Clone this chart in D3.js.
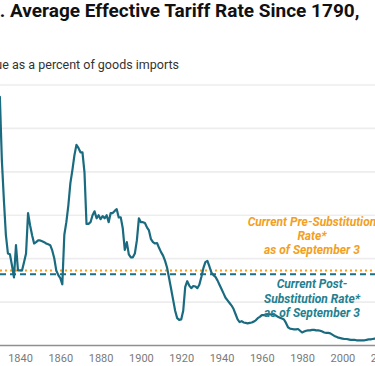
<!DOCTYPE html>
<html><head><meta charset="utf-8">
<script src="https://cdn.jsdelivr.net/npm/d3@7"></script>
<style>
body{margin:0;background:#fff;overflow:hidden;}
svg{display:block;font-family:Roboto,"Noto Sans",sans-serif;}
</style>
</head><body>
<svg id="c" width="375" height="366"></svg>
<script>
// ---- data ----
const firstYear = 1828;
const rates = [
 46.0,50.8,57.3,42.7,33.5,25.4,21.2,21.0,18.5,15.7,23.1,17.3,           // 1828-1839
 17.3,17.3,19.2,21.2,30.5,27.7,25.4,23.5,23.8,24.2,                     // 1840-1849
 24.2,24.0,23.8,23.5,23.3,23.1,21.9,20.1,17.3,16.2,                     // 1850-1859
 15.5,14.1,25.5,28.4,32.3,37.4,40.4,43.8,46.2,45.5,                     // 1860-1869
 44.5,44.5,39.9,28.0,28.0,28.4,30.0,30.9,29.3,30.0,                     // 1870-1879
 29.1,29.8,29.3,30.0,28.4,30.5,30.5,31.0,31.4,29.5,                     // 1880-1889
 29.5,27.0,22.0,23.8,21.0,20.3,20.3,21.2,24.2,29.3,                     // 1890-1899
 28.4,28.4,28.2,27.2,26.5,24.5,23.8,23.5,23.6,22.5,                     // 1900-1909
 21.5,20.7,19.5,17.9,15.5,13.0,10.5,8.0,6.3,5.9,                        // 1910-1919
 6.0,8.0,13.5,14.8,13.8,13.2,13.7,13.6,13.2,14.0,                       // 1920-1929
 15.8,17.8,19.2,19.5,18.2,16.8,16.2,15.8,15.0,14.0,                     // 1930-1939
 13.0,12.0,11.0,10.4,9.8,9.2,8.4,7.2,6.0,5.4,                           // 1940-1949
 5.6,5.3,5.2,5.1,5.2,5.3,5.5,5.8,6.3,6.6,                               // 1950-1959
 7.0,7.0,7.1,7.1,7.2,7.2,7.1,6.9,6.6,6.4,                               // 1960-1969
 6.2,6.0,5.2,4.2,3.9,3.8,3.7,3.7,3.8,3.4,                               // 1970-1979
 3.0,3.2,3.4,3.5,3.5,3.6,3.6,3.5,3.5,3.4,                               // 1980-1989
 3.2,3.0,2.9,2.9,2.8,2.5,2.2,2.0,1.8,1.7,                               // 1990-1999
 1.6,1.5,1.5,1.4,1.3,1.3,1.3,1.2,1.2,1.2,                               // 2000-2009
 1.2,1.2,1.3,1.4,1.4,1.5,1.6,1.6,2.0,2.6,                               // 2010-2019
 2.6,2.4,2.4,2.3,2.5                                                    // 2020-2024
];
const years = rates.map((_, i) => firstYear + i);
const xTicks = [1800,1820,1840,1860,1880,1900,1920,1940,1960,1980,2000,2020];
const yGrid = [10,20,30,40,50,60];
const preRate = 17.3;
const postRate = 16.4;
const titleText = "U.S. Average Effective Tariff Rate Since 1790,";
const titleVisible = "Average Effective Tariff Rate Since 1790,";
const subtitleText = "Customs duties revenue as a percent of goods imports";
const subtitleVisible = "as a percent of goods imports";
const preLabel = ["Current Pre-Substitution", "Rate*", "as of September 3"];
const postLabel = ["Current Post-", "Substitution Rate*", "as of September 3"];

// ---- drawing ----
const svg = d3.select("#c");
const pxPerYear = 2.015;
const x = d3.scaleLinear().domain([1790, 2030]).range([20 - 50*pxPerYear, 20 + 190*pxPerYear]);
const y = d3.scaleLinear().domain([0, 60]).range([345.5, 85]);

// gridlines
svg.append("g").selectAll("line").data(yGrid).join("line")
  .attr("x1", 0).attr("x2", 375)
  .attr("y1", d => y(d)).attr("y2", d => y(d))
  .attr("stroke", "#ededed").attr("stroke-width", 1.6);

// x axis
const xAxis = d3.axisBottom(x).tickValues(xTicks).tickFormat(d3.format("d")).tickSize(0).tickPadding(9);
const gx = svg.append("g").attr("transform", `translate(0,${y(0)})`).call(xAxis);
gx.select(".domain").remove();
gx.selectAll("text").attr("fill", "#7a7a7a").attr("font-size", 11).attr("font-family", "Roboto, sans-serif");
svg.append("line").attr("x1", 0).attr("x2", 375).attr("y1", y(0)).attr("y2", y(0))
  .attr("stroke", "#8f8f8f").attr("stroke-width", 1.6);

// reference lines
svg.append("line").attr("x1", 0).attr("x2", 375).attr("y1", y(preRate)).attr("y2", y(preRate))
  .attr("stroke", "#f2a024").attr("stroke-width", 2).attr("stroke-dasharray", "2,3");
svg.append("line").attr("x1", 0).attr("x2", 375).attr("y1", y(postRate)).attr("y2", y(postRate))
  .attr("stroke", "#1d6f83").attr("stroke-width", 2).attr("stroke-dasharray", "6,4");

// main line
const line = d3.line().x((d, i) => x(years[i])).y(d => y(d)).curve(d3.curveLinear);
svg.append("path").datum(rates).attr("d", line)
  .attr("fill", "none").attr("stroke", "#1a6b80").attr("stroke-width", 2.2)
  .attr("stroke-linejoin", "round");

// annotations
const annoX = 312;
svg.append("g").selectAll("text").data(preLabel).join("text")
  .attr("x", annoX).attr("y", (d, i) => 225.5 + i*14)
  .attr("text-anchor", "middle").attr("font-size", 12).attr("font-weight", 700)
  .attr("font-style", "italic").attr("fill", "#f2a024").text(d => d);
svg.append("g").selectAll("text").data(postLabel).join("text")
  .attr("x", annoX).attr("y", (d, i) => 288 + i*14.5)
  .attr("text-anchor", "middle").attr("font-size", 12).attr("font-weight", 700)
  .attr("font-style", "italic").attr("fill", "#23808f").text(d => d);

// title & subtitle (cropped on the left as in the reference)
function measure(txt, size, weight) {
  const t = svg.append("text").attr("font-size", size).attr("font-weight", weight).text(txt);
  const w = t.node().getComputedTextLength(); t.remove(); return w;
}
const tSize = 19;
const tOff = measure(titleText, tSize, 700) - measure(titleVisible, tSize, 700);
svg.append("text").attr("x", 10 - tOff).attr("y", 17)
  .attr("font-size", tSize).attr("font-weight", 700).attr("fill", "#111").text(titleText);
const sSize = 12.5;
const sOff = measure(subtitleText, sSize, 400) - measure(subtitleVisible, sSize, 400);
svg.append("text").attr("x", 12 - sOff).attr("y", 69)
  .attr("font-size", sSize).attr("fill", "#333").text(subtitleText);
</script>
</body></html>
